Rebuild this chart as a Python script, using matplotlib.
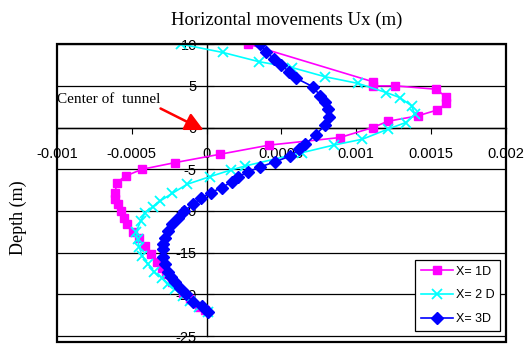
import matplotlib.pyplot as plt
from matplotlib.patches import Rectangle

# Horizontal displacement profiles against depth, three offsets from the tunnel
ux_1d = [0.00028, 0.00111, 0.00111, 0.00126, 0.00153, 0.00160, 0.00160, 0.00154,
         0.00141, 0.00121, 0.00111, 0.00089, 0.00042, 0.00009, -0.00021, -0.00043,
         -0.00054, -0.00060, -0.00061, -0.00061, -0.00059, -0.00057, -0.00055,
         -0.00053, -0.00049, -0.00045, -0.00041, -0.00037, -0.00033, -0.00030,
         -0.00027, -0.00023, -0.00016, -0.00011, -0.00005, -0.00001]
depth_1d = [10, 5.5, 5.0, 5.0, 4.6, 3.7, 2.9, 2.1, 1.4, 0.75, 0, -1.2, -2.1, -3.2,
            -4.2, -5.0, -5.8, -6.6, -7.8, -8.6, -9.2, -10, -10.8, -11.6, -12.5,
            -13.2, -14.2, -15.2, -16.1, -16.8, -17.6, -18.5, -19.8, -20.6, -21.5, -21.9]

ux_2d = [-0.00017, 0.00011, 0.00035, 0.00057, 0.00079, 0.00101, 0.00120, 0.00129,
         0.00137, 0.00139, 0.00133, 0.00121, 0.00104, 0.00085, 0.00064, 0.00026,
         0.00016, 0.00002, -0.00013, -0.00023, -0.00031, -0.00036, -0.00041,
         -0.00044, -0.00047, -0.00046, -0.00045, -0.00043, -0.00039, -0.00035,
         -0.00030, -0.00026, -0.00021, -0.00016, -0.00011, -0.00005, 0.00001]
depth_2d = [10, 9, 7.9, 7.2, 6.1, 5.3, 4.2, 3.6, 2.6, 1.6, 0.6, -0.2, -1.4, -2.1,
            -3.0, -4.6, -5.1, -5.9, -6.8, -7.9, -8.8, -9.5, -10.2, -11.2, -12.5,
            -13.4, -14.3, -15.4, -16.4, -17.3, -18.0, -18.8, -19.4, -20.2, -20.8,
            -21.5, -22.1]

ux_3d = [0.00036, 0.00040, 0.00045, 0.00050, 0.00055, 0.00060, 0.00071, 0.00076,
         0.00079, 0.00081, 0.00082, 0.00079, 0.00073, 0.00066, 0.00062, 0.00056,
         0.00046, 0.00036, 0.00028, 0.00021, 0.00017, 0.00010, 0.00003, -0.00004,
         -0.00009, -0.00015, -0.00019, -0.00023, -0.00026, -0.00028, -0.00029,
         -0.00029, -0.00029, -0.00028, -0.00026, -0.00024, -0.00021, -0.00018,
         -0.00014, -0.00009, -0.00003, 0.00001]
depth_3d = [10, 9.1, 8.2, 7.5, 6.7, 5.9, 4.9, 3.8, 3.1, 2.2, 1.3, 0.25, -0.85, -2.0,
            -2.6, -3.4, -4.1, -4.7, -5.3, -5.9, -6.5, -7.2, -7.8, -8.5, -9.2, -10,
            -10.8, -11.6, -12.4, -13.2, -14.0, -14.6, -15.5, -16.4, -17.3, -17.9,
            -18.5, -19.2, -20.0, -20.9, -21.4, -22.1]

x_ticks = [-0.001, -0.0005, 0, 0.0005, 0.001, 0.0015, 0.002]
x_labels = ["-0.001", "-0.0005", "0", "0.0005", "0.001", "0.0015", "0.002"]
y_ticks = [10, 5, 0, -5, -10, -15, -20, -25]

tick_font = "Liberation Sans"
serif = "Liberation Serif"

fig = plt.figure(figsize=(5.26, 3.45), dpi=100)
ax = fig.add_axes([0.108, 0.009, 0.854, 0.863])

ax.plot(ux_1d, depth_1d, color="#ff00ff", lw=1.2, marker="s", ms=6,
        label="X= 1D", zorder=3)
ax.plot(ux_2d, depth_2d, color="#00ffff", lw=1.2, marker="x", ms=7, mew=1.3,
        label="X= 2 D", zorder=3)
ax.plot(ux_3d, depth_3d, color="#0000ff", lw=1.2, marker="D", ms=6,
        label="X= 3D", zorder=4)

ax.set_xlim(-0.001, 0.002)
ax.set_ylim(-25.7, 10)

# axes cross at the origin, frame drawn separately
ax.spines["left"].set_position(("data", 0))
ax.spines["bottom"].set_position(("data", 0))
ax.spines["left"].set_bounds(-25, 10)
ax.spines["top"].set_visible(False)
ax.spines["right"].set_visible(False)
for s in ("left", "bottom"):
    ax.spines[s].set_linewidth(1.0)
ax.add_patch(Rectangle((0, 0), 1, 1, transform=ax.transAxes, fill=False,
                       lw=1.6, ec="black", clip_on=False, zorder=5))

for y in y_ticks:
    ax.axhline(y, color="black", lw=0.9, zorder=1)

ax.set_xticks(x_ticks)
ax.set_xticklabels(x_labels, family=tick_font, fontsize=10.5)
ax.set_yticks(y_ticks)
ax.set_yticklabels([str(v) for v in y_ticks], family=tick_font, fontsize=10.5)
ax.tick_params(axis="x", direction="out", length=4, pad=10)
ax.tick_params(axis="y", direction="in", length=5, pad=7)

fig.text(0.545, 0.942, "Horizontal movements Ux (m)", family=serif,
         fontsize=13.5, ha="center", va="center")
fig.text(0.035, 0.37, "Depth (m)", family=serif, fontsize=13,
         rotation=90, ha="center", va="center")

ax.annotate("Center of  tunnel", xy=(-0.00002, -0.3), xytext=(-0.00100, 3.4),
            family=serif, fontsize=11, ha="left", va="center",
            arrowprops=dict(arrowstyle="-|>,head_length=1.0,head_width=0.5",
                            color="red", lw=1.8, shrinkA=0, shrinkB=0,
                            relpos=(1.0, -0.2)))

leg = ax.legend(loc="lower right", bbox_to_anchor=(0.987, 0.037),
                prop={"family": tick_font, "size": 9}, frameon=True,
                fancybox=False, edgecolor="black", framealpha=1,
                handlelength=2.6, handletextpad=0.2, borderpad=0.45,
                labelspacing=0.95, borderaxespad=0)
leg.get_frame().set_linewidth(0.9)

fig.savefig("out.png", dpi=100)
